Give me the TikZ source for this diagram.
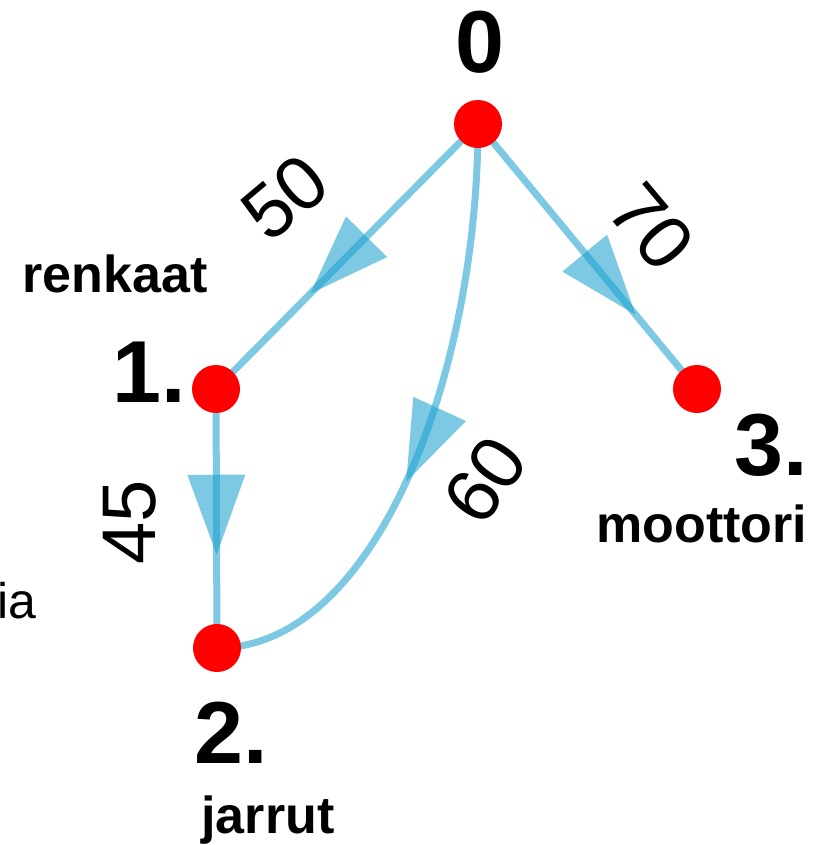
\documentclass[tikz,border=0pt]{standalone}
\usepackage{fontspec}
\setmainfont{Liberation Sans}
\usetikzlibrary{decorations.markings}
\definecolor{edgeblue}{RGB}{27,160,207}
\definecolor{dotred}{RGB}{255,0,0}
\pgfdeclarelayer{bg}
\pgfsetlayers{bg,main}
\begin{document}
\begin{tikzpicture}[x=1bp,y=-1bp,
  dot/.style={circle,fill=dotred,inner sep=0pt,minimum size=48bp},
  edge/.style={draw=edgeblue,draw opacity=0.57,line width=7bp},
  numlab/.style={font=\fontsize{88bp}{88bp}\selectfont\bfseries,inner sep=0pt},
  namelab/.style={font=\fontsize{52bp}{52bp}\selectfont\bfseries,inner sep=0pt},
  wlab/.style={font=\fontsize{76bp}{76bp}\selectfont,inner sep=0pt},
  plainlab/.style={font=\fontsize{50bp}{50bp}\selectfont,inner sep=0pt},
  arr/.style={postaction={decorate,decoration={markings,
      mark=at position #1 with {\fill[edgeblue,fill opacity=0.57] (0,0) -- (-80,29) -- (-80,-29) -- cycle;}}}}
]
\useasboundingbox (0,0) rectangle (821,845);

% dots
\node[dot] (n0) at (478,124) {};
\node[dot] (n1) at (216,389) {};
\node[dot] (n2) at (217,648) {};
\node[dot] (n3) at (697,389) {};

% edges
\begin{pgfonlayer}{bg}
\draw[edge,arr=0.64] (n0.center) -- (n1.center);
\draw[edge,arr=0.72] (n0.center) -- (n3.center);
\draw[edge,arr=0.64] (n1.center) -- (n2.center);
\draw[edge,arr=0.58] (n0.center) .. controls (478,374) and (376,648) .. (n2.center);
\end{pgfonlayer}

% node numbers
\node[numlab,anchor=base] (t0) at (480,72) {0};
\node[numlab,anchor=base west] (t1) at (112,402) {1.};
\node[numlab,anchor=base west] (t2) at (194,763) {2.};
\node[numlab,anchor=base west] (t3) at (734,475) {3.};

% names
\node[namelab,anchor=base] (l1) at (115,292) {renkaat};
\node[namelab,anchor=base] (l3) at (702,542) {moottori};
\node[namelab,anchor=base] (l2) at (268,833) {jarrut};
\node[plainlab,anchor=base west] (lx) at (-3,618) {ia};

% weights
\node[wlab,rotate=40] (w50) at (285,197) {50};
\node[wlab,rotate=-50] (w70) at (652,227) {70};
\node[wlab,rotate=90] (w45) at (130,522) {45};
\node[wlab,rotate=55] (w60) at (485,480) {60};
\end{tikzpicture}
\end{document}
